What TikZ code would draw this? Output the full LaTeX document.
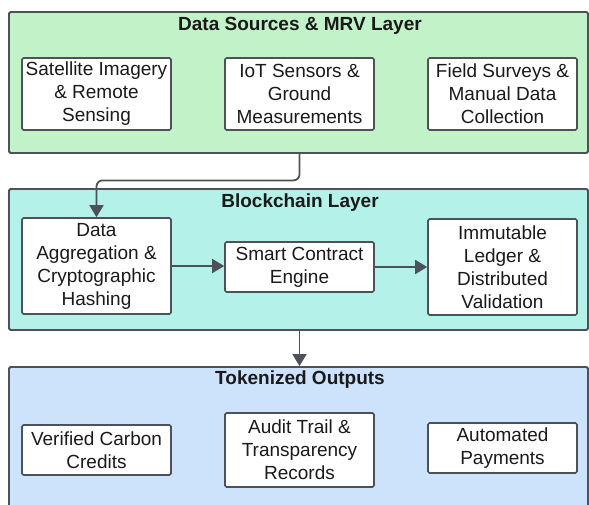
\documentclass[tikz,border=0pt]{standalone}
\usepackage{fontspec}
\setmainfont{Liberation Sans}
\usetikzlibrary{arrows.meta}

\definecolor{edgegray}{RGB}{77,81,88}
\definecolor{txt}{RGB}{26,26,26}
\definecolor{mrvgreen}{RGB}{194,243,200}
\definecolor{chaincyan}{RGB}{180,241,232}
\definecolor{tokblue}{RGB}{205,227,251}

\tikzset{
  layer/.style={draw=edgegray, line width=1.8pt, rounded corners=1.5pt,
    minimum width=579pt, inner sep=0pt},
  layertitle/.style={font=\fontsize{19}{23}\selectfont\bfseries, text=txt,
    inner sep=0pt, anchor=base},
  stepbox/.style={draw=edgegray, fill=white, line width=1.6pt, rounded corners=1.5pt,
    minimum width=149pt, align=center, inner sep=0pt, text=txt,
    font=\fontsize{19}{23}\selectfont},
  conn/.style={draw=edgegray, line width=1.8pt,
    -{Triangle[length=12pt,width=14pt]}},
}

\begin{document}
\begin{tikzpicture}[x=1pt, y=-1pt]
\useasboundingbox (0,0) rectangle (589,504);

% layer containers
\node[layer, fill=mrvgreen,   minimum height=141pt] (L1) at (298.5,82.5) {};
\node[layer, fill=chaincyan,  minimum height=141pt] (L2) at (298.5,259.5) {};
\node[layer, fill=tokblue,    minimum height=146pt] (L3) at (298.5,440) {};

\node[layertitle] (t1) at (300,30)    {Data Sources \& MRV Layer};
\node[layertitle] (t2) at (300,207)   {Blockchain Layer};
\node[layertitle] (t3) at (300,384)   {Tokenized Outputs};

% data sources
\node[stepbox, minimum height=72pt] (sat)   at (96.5,94)  {Satellite Imagery\\\& Remote\\Sensing};
\node[stepbox, minimum height=72pt] (iot)   at (299.5,94) {IoT Sensors \&\\Ground\\Measurements};
\node[stepbox, minimum height=72pt] (field) at (502.5,94) {Field Surveys \&\\Manual Data\\Collection};

% blockchain
\node[stepbox, minimum height=96pt] (agg)   at (96.5,266)  {Data\\Aggregation \&\\Cryptographic\\Hashing};
\node[stepbox, minimum height=50pt] (smart) at (299.5,267) {Smart Contract\\Engine};
\node[stepbox, minimum height=96pt] (ledger) at (502.5,267) {Immutable\\Ledger \&\\Distributed\\Validation};

% outputs
\node[stepbox, minimum height=50pt] (vcc)   at (96.5,450)  {Verified Carbon\\Credits};
\node[stepbox, minimum height=74pt] (audit) at (299.5,450) {Audit Trail \&\\Transparency\\Records};
\node[stepbox, minimum height=50pt] (pay)   at (502.5,448) {Automated\\Payments};

% flow
\draw[conn, rounded corners=6pt] (iot.south |- L1.south) -- ++(0,26.5) -| (agg.north);
\draw[conn] (agg.east) -- (smart.west |- agg.east);
\draw[conn] (smart.east) -- (ledger.west |- smart.east);
\draw[conn] (smart.south |- L2.south) -- (smart.south |- L3.north);
\end{tikzpicture}
\end{document}
